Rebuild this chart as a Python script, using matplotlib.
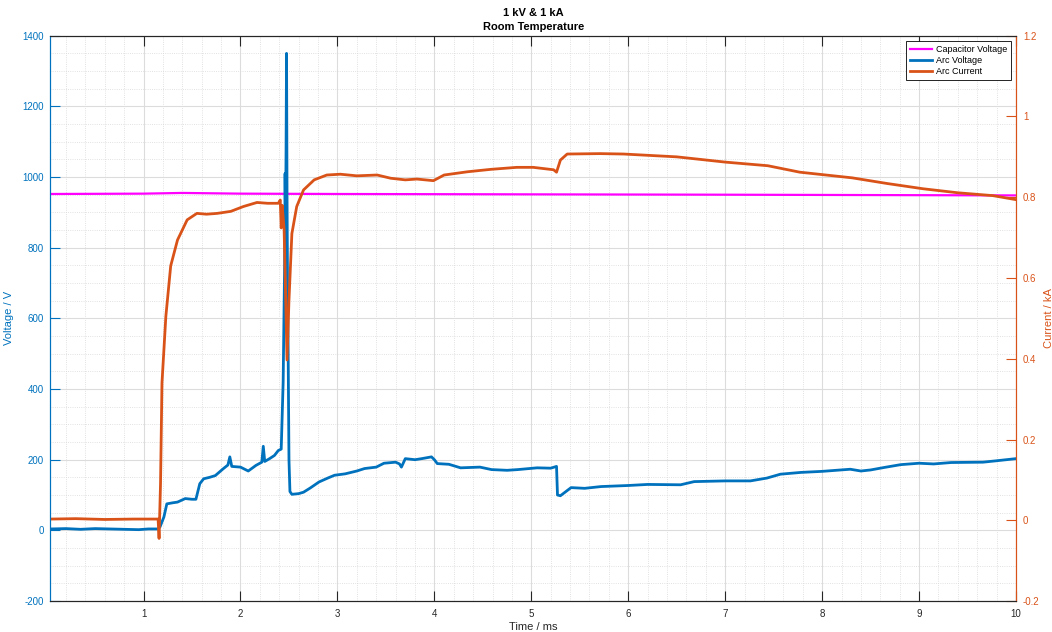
import matplotlib
matplotlib.use('Agg')
import matplotlib.pyplot as plt
from matplotlib.ticker import MultipleLocator

plt.rcParams['font.family'] = ['Liberation Sans', 'DejaVu Sans']
plt.rcParams['axes.unicode_minus'] = False

# capacitor voltage (V)
t_cap = [0.04, 1.0, 1.4, 2.0, 3.0, 5.0, 7.0, 8.5, 10.0]
cap_v = [952, 953, 955, 953, 952, 951, 950, 949, 948]

# arc voltage (V)
t_arc_v = [0.04, 0.2, 0.35, 0.5, 0.65, 0.8, 0.95, 1.05, 1.15, 1.17, 1.21, 1.24, 1.3, 1.35,
           1.43, 1.5, 1.54, 1.58, 1.62, 1.68, 1.74, 1.82, 1.87, 1.89, 1.91, 2.0, 2.08, 2.16,
           2.22, 2.235, 2.25, 2.3, 2.35, 2.39, 2.42, 2.44, 2.455, 2.46, 2.465, 2.47, 2.475,
           2.48, 2.485, 2.49, 2.5, 2.51, 2.53, 2.6, 2.65, 2.72, 2.81, 2.9, 2.97, 3.08, 3.2,
           3.28, 3.4, 3.48, 3.6, 3.64, 3.66, 3.7, 3.8, 3.87, 3.97, 4.0, 4.03, 4.15, 4.27,
           4.47, 4.59, 4.75, 4.86, 5.06, 5.2, 5.26, 5.27, 5.3, 5.41, 5.55, 5.72, 6.0, 6.2,
           6.54, 6.68, 7.0, 7.26, 7.43, 7.57, 7.78, 8.0, 8.29, 8.4, 8.5, 8.64, 8.81, 9.0,
           9.15, 9.33, 9.66, 9.8, 10.0]
arc_v = [4, 5, 3, 5, 4, 3, 2, 4, 4, 10, 38, 75, 78, 80,
         90, 88, 88, 132, 146, 150, 155, 174, 185, 208, 181, 179, 168, 184,
         193, 238, 195, 203, 212, 226, 230, 420, 750, 1010, 880, 1075, 1350,
         950, 700, 560, 200, 110, 102, 104, 108, 120, 137, 148, 156, 160, 168,
         175, 179, 190, 193, 188, 179, 203, 200, 203, 208, 200, 189, 187, 177,
         179, 172, 170, 172, 177, 176, 181, 100, 98, 121, 119, 124, 127, 130,
         129, 138, 140, 140, 148, 159, 164, 167, 173, 168, 171, 178, 186, 190,
         188, 192, 193, 197, 203]

# arc current (kA)
t_cur = [0.04, 0.3, 0.6, 0.9, 1.15, 1.16, 1.175, 1.19, 1.23, 1.28, 1.35, 1.45, 1.55, 1.65,
         1.76, 1.9, 2.03, 2.17, 2.28, 2.39, 2.41, 2.42, 2.43, 2.45, 2.48, 2.5, 2.53, 2.58,
         2.65, 2.76, 2.89, 3.03, 3.2, 3.41, 3.55, 3.7, 3.82, 3.99, 4.1, 4.34, 4.58, 4.85,
         5.02, 5.23, 5.26, 5.3, 5.37, 5.71, 5.95, 6.5, 7.0, 7.44, 7.77, 8.31, 8.67, 9.04,
         9.4, 9.76, 10.0]
arc_cur = [0.003, 0.004, 0.002, 0.003, 0.003, -0.045, 0.09, 0.34, 0.505, 0.63, 0.694, 0.744, 0.76, 0.758,
           0.76, 0.765, 0.777, 0.787, 0.785, 0.785, 0.793, 0.724, 0.78, 0.72, 0.397, 0.545, 0.71, 0.777,
           0.818, 0.843, 0.855, 0.857, 0.853, 0.855, 0.847, 0.843, 0.845, 0.841, 0.855, 0.863, 0.869, 0.874,
           0.874, 0.868, 0.862, 0.892, 0.907, 0.908, 0.907, 0.90, 0.887, 0.878, 0.862, 0.848, 0.834, 0.821,
           0.811, 0.804, 0.794]

blue = '#0072BD'
orange = '#D95319'
magenta = '#FF00FF'

fig = plt.figure(figsize=(10.52, 6.32), dpi=100)
ax = fig.add_axes([0.048, 0.049, 0.9178, 0.8945])
ax2 = ax.twinx()

l1, = ax.plot(t_cap, cap_v, color=magenta, lw=1.6, label='Capacitor Voltage')
l2, = ax.plot(t_arc_v, arc_v, color=blue, lw=2.0, label='Arc Voltage')
l3, = ax2.plot(t_cur, arc_cur, color=orange, lw=2.0, label='Arc Current')

ax.set_xlim(0.04, 10)
ax.set_ylim(-200, 1400)
ax2.set_ylim(-0.2, 1.2)
ax.set_xticks(range(1, 11))
ax.set_yticks(range(-200, 1401, 200))
ax2.set_yticks([-0.2, 0, 0.2, 0.4, 0.6, 0.8, 1, 1.2])
ax2.set_yticklabels(['-0.2', '0', '0.2', '0.4', '0.6', '0.8', '1', '1.2'])
ax.xaxis.set_minor_locator(MultipleLocator(0.2))
ax.yaxis.set_minor_locator(MultipleLocator(50))

ax.grid(which='major', color='#dcdcdc', lw=0.8)
ax.grid(which='minor', color='#d8d8d8', lw=0.6, linestyle=':')
ax.set_axisbelow(True)

ax.tick_params(axis='x', which='major', direction='in', length=7, top=True, bottom=True,
               labelsize=7, colors='#262626', pad=6)
ax.tick_params(axis='y', which='major', direction='in', length=7, labelsize=7,
               colors=blue, pad=5)
ax2.tick_params(axis='y', which='major', direction='in', length=7, labelsize=7,
                colors=orange, pad=5)
ax.tick_params(which='minor', length=0)
ax2.tick_params(which='minor', length=0)

for a in (ax, ax2):
    a.spines['top'].set_color('#262626')
    a.spines['bottom'].set_color('#262626')
    a.spines['left'].set_color(blue)
    a.spines['right'].set_color(orange)
    for s in a.spines.values():
        s.set_linewidth(0.8)

ax.set_xlabel('Time / ms', fontsize=8, color='#262626', labelpad=2)
ax.set_ylabel('Voltage / V', fontsize=8, color=blue, labelpad=6)
ax2.set_ylabel('Current / kA', fontsize=8, color=orange, labelpad=3)
ax.set_title('1 kV & 1 kA\nRoom Temperature', fontsize=8, fontweight='bold',
             color='#000000', pad=4, linespacing=1.5)

leg = ax2.legend(handles=[l1, l2, l3], loc='upper right', fontsize=6.5, frameon=True,
                 fancybox=False, edgecolor='black', framealpha=1, handlelength=2.5,
                 borderaxespad=0.6, borderpad=0.4, labelspacing=0.25, handletextpad=0.4)
leg.get_frame().set_linewidth(0.6)

fig.savefig('out.png', dpi=100)
